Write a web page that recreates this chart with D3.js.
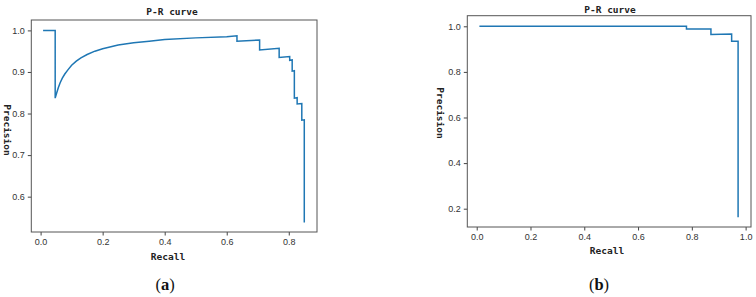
<!DOCTYPE html>
<html>
<head>
<meta charset="utf-8">
<script src="https://cdn.jsdelivr.net/npm/d3@7"></script>
<style>
  body { margin: 0; background: #fff; }
  svg { display: block; }
  .tick text { font-family: "Liberation Sans", Arial, sans-serif; font-size: 9px; fill: #333; }
  .tick line { stroke: #444; }
  .frame { fill: none; stroke: #555; stroke-width: 1; }
  .title, .xlab, .ylab { font-family: "DejaVu Sans Mono", monospace; font-weight: bold; font-size: 9.5px; fill: #222; }
  .cap { font-family: "Liberation Serif", "Times New Roman", serif; font-size: 16.5px; fill: #111; }
  .pr { fill: none; stroke: #1f77b4; stroke-width: 1.5; }
</style>
</head>
<body>
<svg id="chart" width="756" height="297"></svg>
<script>
// ── Data ───────────────────────────────────────────────────────────────────

// panel (a): recall / precision points (steps are duplicated x)
const recallA = [0.008, 0.047, 0.047, 0.052, 0.057, 0.063, 0.070, 0.078, 0.088, 0.100, 0.115,
                 0.130, 0.150, 0.175, 0.200, 0.250, 0.300, 0.350, 0.400, 0.500, 0.600, 0.633,
                 0.633, 0.706, 0.706, 0.769, 0.769, 0.803, 0.803, 0.811, 0.811, 0.818, 0.818,
                 0.827, 0.827, 0.842, 0.842, 0.850, 0.850];
const precisionA = [1.000, 1.000, 0.837, 0.850, 0.862, 0.874, 0.885, 0.895, 0.905, 0.916, 0.926,
                    0.934, 0.942, 0.950, 0.956, 0.965, 0.970, 0.974, 0.978, 0.982, 0.985, 0.987,
                    0.974, 0.977, 0.953, 0.957, 0.935, 0.937, 0.928, 0.929, 0.902, 0.903, 0.837,
                    0.838, 0.823, 0.824, 0.784, 0.785, 0.538];

// panel (b)
const recallB = [0.010, 0.780, 0.780, 0.871, 0.871, 0.948, 0.948, 0.972, 0.972];
const precisionB = [1.000, 1.000, 0.988, 0.988, 0.964, 0.966, 0.934, 0.934, 0.162];

const ticksA_x = [0.0, 0.2, 0.4, 0.6, 0.8];
const ticksA_y = [0.6, 0.7, 0.8, 0.9, 1.0];
const ticksB_x = [0.0, 0.2, 0.4, 0.6, 0.8, 1.0];
const ticksB_y = [0.2, 0.4, 0.6, 0.8, 1.0];

const panels = [
  { rec: recallA, prec: precisionA, xd: [-0.030, 0.891], yd: [0.515, 1.025],
    box: { l: 31.3, r: 317, t: 20, b: 232 }, xt: ticksA_x, yt: ticksA_y,
    title: [172, 12], xlab: [168, 257], ylab: [7, 130], cap: [165, 284], capText: 'a' },
  { rec: recallB, prec: precisionB, xd: [-0.035, 1.020], yd: [0.1197, 1.0465],
    box: { l: 467.3, r: 751, t: 15.7, b: 227 }, xt: ticksB_x, yt: ticksB_y,
    title: [610, 10], xlab: [607, 251], ylab: [440, 113], cap: [599, 284], capText: 'b' }
];

// ── Render ─────────────────────────────────────────────────────────────────

const svg = d3.select('#chart');

panels.forEach(p => {
  const g = svg.append('g');
  const x = d3.scaleLinear().domain(p.xd).range([p.box.l, p.box.r]);
  const y = d3.scaleLinear().domain(p.yd).range([p.box.b, p.box.t]);

  g.append('g')
    .attr('transform', `translate(0,${p.box.b})`)
    .call(d3.axisBottom(x).tickValues(p.xt).tickFormat(d3.format('.1f')).tickSize(3.5).tickPadding(3))
    .call(a => a.select('.domain').remove());

  g.append('g')
    .attr('transform', `translate(${p.box.l},0)`)
    .call(d3.axisLeft(y).tickValues(p.yt).tickFormat(d3.format('.1f')).tickSize(3.5).tickPadding(3))
    .call(a => a.select('.domain').remove());

  const pts = p.rec.map((r, i) => [r, p.prec[i]]);
  g.append('path')
    .datum(pts)
    .attr('class', 'pr')
    .attr('d', d3.line().x(d => x(d[0])).y(d => y(d[1])));

  g.append('rect').attr('class', 'frame')
    .attr('x', p.box.l).attr('y', p.box.t)
    .attr('width', p.box.r - p.box.l).attr('height', p.box.b - p.box.t);

  g.append('text').attr('class', 'title')
    .attr('x', p.title[0]).attr('y', p.title[1]).attr('text-anchor', 'middle')
    .attr('dy', '0.35em').text('P-R curve');

  g.append('text').attr('class', 'xlab')
    .attr('x', p.xlab[0]).attr('y', p.xlab[1]).attr('text-anchor', 'middle')
    .attr('dy', '0.35em').text('Recall');

  g.append('text').attr('class', 'ylab')
    .attr('transform', `translate(${p.ylab[0]},${p.ylab[1]}) rotate(90)`)
    .attr('text-anchor', 'middle').attr('dy', '0.35em').text('Precision');

  const cap = g.append('text').attr('class', 'cap')
    .attr('x', p.cap[0]).attr('y', p.cap[1]).attr('text-anchor', 'middle')
    .attr('dy', '0.35em');
  cap.append('tspan').text('(');
  cap.append('tspan').attr('font-weight', 'bold').text(p.capText);
  cap.append('tspan').text(')');
});
</script>
</body>
</html>
